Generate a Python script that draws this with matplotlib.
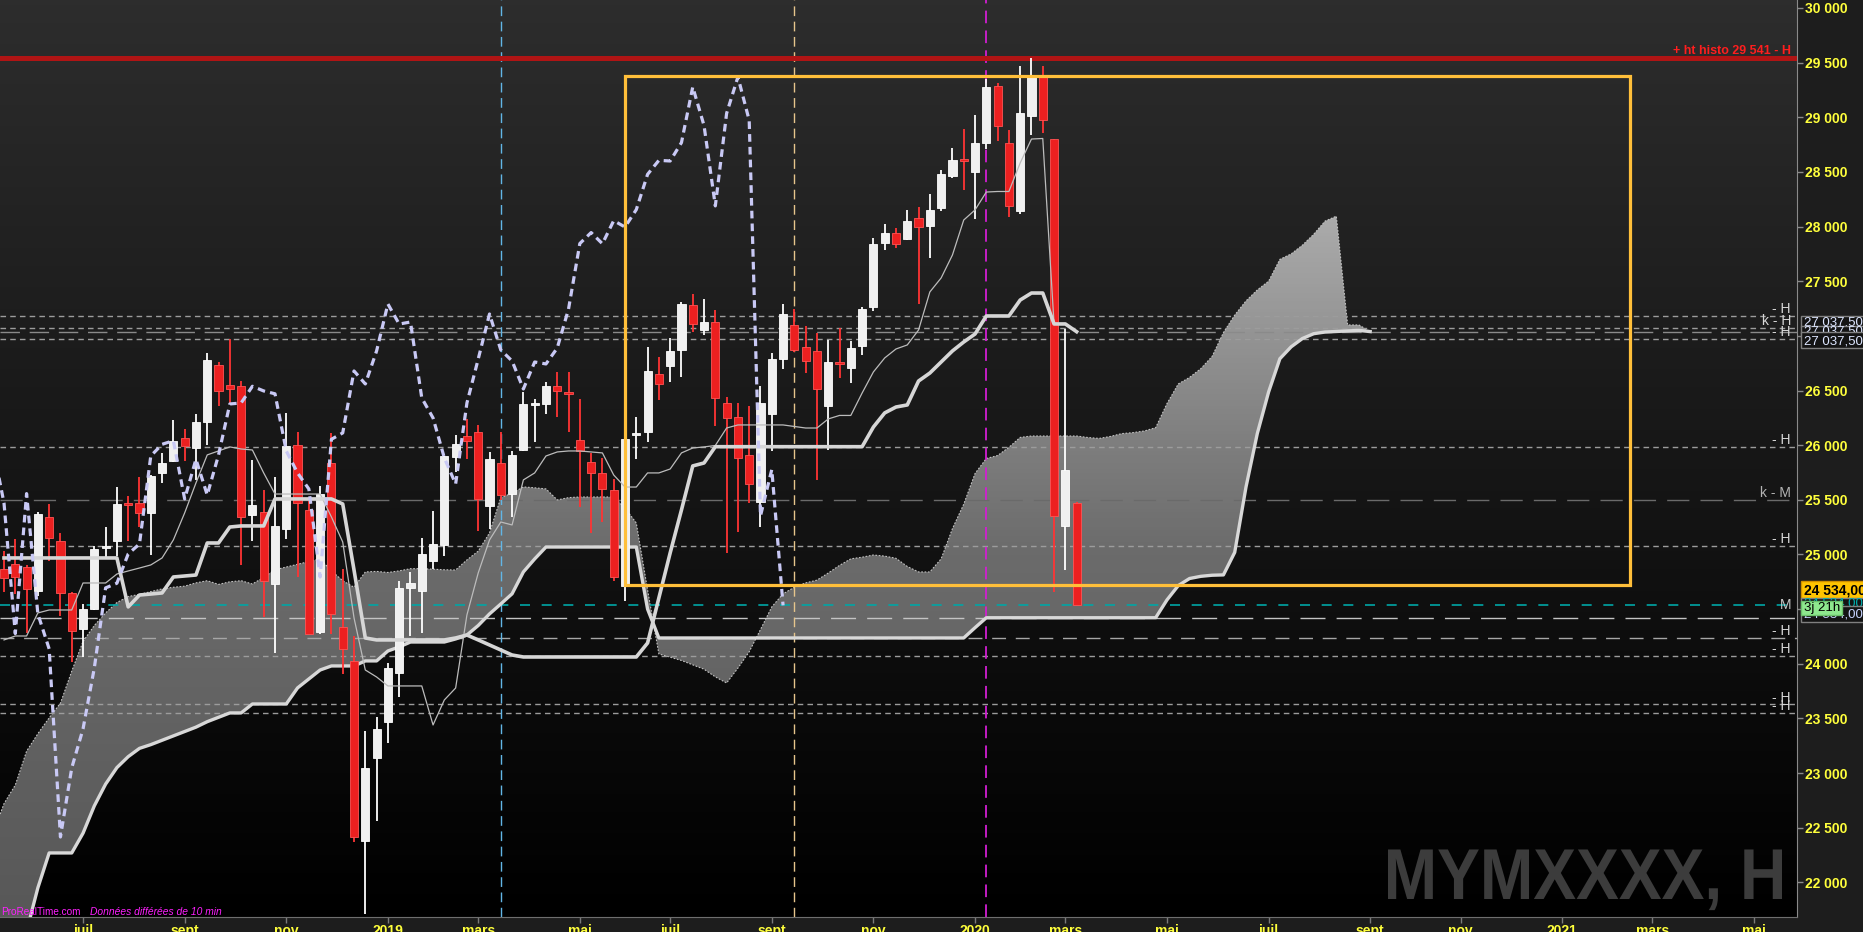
import numpy as np
import pandas as pd
import matplotlib
matplotlib.use("Agg")
import matplotlib.pyplot as plt
from matplotlib.colors import LinearSegmentedColormap
from matplotlib.patches import Rectangle, PathPatch
from matplotlib.textpath import TextPath
from matplotlib.font_manager import FontProperties
from matplotlib.transforms import Affine2D

plt.rcParams['font.family'] = ['Liberation Sans', 'DejaVu Sans']

# weekly candles (mini Dow future), first bar = week of 14 May 2018
first_week = "2018-05-14"

opens = [24867, 24913, 24886, 24666, 25343, 25124, 24648, 24318, 24501, 25060,
         25124, 25471, 25471, 25380, 25746, 25855, 26066, 25974, 26212, 26734,
         26551, 26541, 25361, 25384, 24730, 25237, 26002, 25407, 24291, 25837,
         24337, 24026, 22379, 23138, 23467, 23916, 24690, 24666, 24941, 25091,
         25894, 26080, 26121, 25446, 25837, 25554, 25956, 26368, 26380, 26541,
         26480, 26048, 25846, 25746, 25590, 24712, 26093, 26121, 26651, 26724,
         26871, 27283, 27054, 27127, 26386, 26258, 25910, 25480, 26285, 26788,
         27100, 26898, 26862, 26359, 26761, 26707, 26908, 27267, 27850, 27945,
         27886, 28074, 28006, 28170, 28463, 28610, 28500, 28768, 29283, 28762,
         28145, 29016, 29369, 28799, 25258, 25471]
highs = [25032, 25142, 24904, 25389, 25462, 25197, 24657, 24547, 25078, 25252,
         25618, 25535, 25709, 25725, 25929, 26230, 26148, 26285, 26843, 26761,
         26972, 26587, 25864, 25590, 25709, 26294, 26121, 25490, 25627, 26112,
         24867, 24255, 23385, 23513, 24007, 24758, 24840, 25151, 25398, 25905,
         26093, 26243, 26185, 25938, 26121, 25947, 26487, 26423, 26578, 26670,
         26670, 26423, 25929, 25883, 25691, 26060, 26258, 26898, 26807, 26981,
         27307, 27383, 27337, 27237, 26441, 26386, 26359, 26541, 26843, 27292,
         27246, 27091, 27024, 26963, 27072, 26953, 27265, 27896, 28020, 27990,
         28155, 28182, 28301, 28522, 28719, 28890, 29019, 29351, 29317, 28884,
         29470, 29544, 29469, 28800, 27064, 25480]
lows = [24657, 24639, 24282, 24620, 24941, 24437, 24017, 24062, 24490, 24977,
        24986, 25124, 25252, 24996, 25654, 25850, 25855, 25681, 26002, 26359,
        26386, 24904, 25124, 24428, 24103, 25146, 24794, 24270, 24270, 24276,
        23907, 22370, 21712, 22562, 23276, 23696, 24255, 24282, 24871, 24989,
        25755, 25877, 25215, 25234, 25499, 25343, 25950, 26029, 26288, 26258,
        26121, 25435, 25197, 25297, 24758, 24575, 25874, 26029, 26414, 26578,
        26624, 27036, 27008, 26176, 25014, 25206, 25471, 25252, 25947, 26697,
        26853, 26661, 25681, 25956, 26615, 26569, 26825, 27228, 27790, 27800,
        27877, 27294, 27708, 28143, 28445, 28335, 28070, 28714, 28786, 28088,
        28115, 28838, 28860, 24657, 24854, 24534]
closes = [24785, 24794, 24684, 25370, 25151, 24648, 24300, 24501, 25050, 25078,
          25462, 25453, 25380, 25718, 25837, 26038, 25993, 26212, 26780, 26496,
          26514, 25343, 25453, 24758, 25261, 25993, 25471, 24276, 25557, 24456,
          24136, 22415, 23047, 23404, 23962, 24694, 24737, 25005, 25096, 25901,
          26008, 26041, 25508, 25871, 25544, 25910, 26377, 26386, 26539, 26496,
          26470, 25947, 25746, 25599, 24794, 26054, 26112, 26679, 26560, 26862,
          27292, 27108, 27127, 26432, 26249, 25883, 25645, 26386, 26788, 27200,
          26871, 26770, 26514, 26761, 26743, 26889, 27246, 27845, 27945, 27843,
          28054, 27996, 28155, 28478, 28606, 28600, 28768, 29277, 28924, 28189,
          29036, 29369, 28972, 25353, 25777, 24534]

# ichimoku lines as read on the chart, one value per weekly bar
tenkan = [24218, 24254, 24254, 24465, 24492, 24492, 24492, 24739, 24739, 24739,
          24821, 24849, 24876, 24904, 24968, 25133, 25380, 25654, 25911, 25947,
          25984, 25965, 25956, 25746, 25553, 25553, 25553, 25553, 25553, 25343,
          25114, 24420, 23943, 23879, 23797, 23797, 23797, 23797, 23440, 23669,
          23778, 24447, 24831, 25133, 25297, 25270, 25682, 25746, 25901, 25938,
          25947, 25947, 25938, 25929, 25727, 25617, 25617, 25746, 25746, 25782,
          25929, 25974, 25984, 25997, 26157, 26185, 26185, 26185, 26185, 26185,
          26171, 26157, 26157, 26240, 26272, 26272, 26477, 26670, 26798, 26880,
          26917, 27054, 27402, 27530, 27740, 28060, 28152, 28316, 28321, 28321,
          28582, 28801, 28806, 27109, 27109, 27038]
kijun = ([24968] * 11
         + [24520, 24629, 24638, 24648, 24794, 24803, 24812, 25105, 25105]
         + [25251, 25261, 25261, 25261] + [25508] * 6
         + [25462, 24858, 24236] + [24218] * 7
         + [24236, 24263, 24218, 24172, 24126, 24080] + [24062] * 11
         + [24190, 24602, 25014, 25407, 25810, 25837] + [25986] * 14
         + [26166, 26295, 26349, 26368, 26587, 26660, 26761, 26862, 26944, 27017]
         + [27182] * 3 + [27328, 27392, 27392, 27109, 27109, 27038])

# cloud, from bar -1 up to bar 121 (26 weeks ahead of the last candle)
cloud_first_bar = -1
senkou_a = [22440, 22720, 22890, 23200, 23360, 23505, 23640, 23932, 24204, 24350, 24465,
            24560, 24615, 24635, 24660, 24685, 24700, 24710, 24740, 24760, 24726,
            24750, 24760, 24730, 24790, 24860, 24885, 24910, 24935, 24960, 24850,
            24760, 24700, 24840, 24845, 24835, 24850, 24870, 24870, 24865, 24860,
            24858, 24950, 25030, 25197, 25520, 25560, 25618, 25610, 25600, 25499,
            25520, 25526, 25526, 25526, 25526, 25425, 25288, 24675, 24090, 24060,
            24030, 23990, 23950, 23880, 23824, 23960, 24110, 24313, 24520, 24640,
            24700, 24740, 24765, 24830, 24900, 24960, 24975, 24995, 24985, 24965,
            24890, 24840, 24840, 24960, 25236, 25460, 25740, 25878, 25905, 25980,
            26071, 26084, 26084, 26084, 26084, 26084, 26070, 26062, 26080, 26106,
            26115, 26130, 26160, 26380, 26560, 26620, 26700, 26812, 27030, 27190,
            27320, 27420, 27500, 27700, 27750, 27830, 27930, 28050, 28095, 27100,
            27100, 27039]
senkou_b = ([21300, 21300, 21300, 21552, 21950, 22269, 22269, 22269, 22450, 22700, 22899]
            + [23050, 23150, 23226, 23260, 23300, 23340, 23380, 23420, 23470, 23510]
            + [23550, 23550, 23632, 23632, 23632, 23632, 23779, 23861, 23943, 23980]
            + [23980, 23980, 24026, 24026, 24117, 24154, 24199, 24199, 24199, 24199]
            + [24227, 24263, 24350, 24456, 24547, 24640, 24840, 24959, 25068, 25068]
            + [25068] * 7 + [24500, 24236, 24236]
            + [24236] * 26 + [24330, 24421, 24421, 24421]
            + [24421] * 13
            + [24584, 24715, 24780, 24800, 24810, 24813, 25019]
            + [25617, 26106, 26486, 26791, 26900, 26976, 27020, 27035, 27040, 27045]
            + [27050, 27039])
chikou_shift = 26

ht_histo = 29541
last_price = 24534
ssb_last = 27037.50
time_left = "3j 21h"
box_bars = (55, 144)
box_prices = (24725, 29378)

short_levels = [27182, 27072, 26975, 25984, 25082, 24071, 23628, 23550]
level_tags = [("- H", 27182), ("k - H", 27072), ("- H", 26975), ("- H", 25984),
              ("k - M", 25500), ("- H", 25082), ("- H", 24236), ("- H", 24071),
              ("- H", 23628), ("- H", 23550)]

month_starts = ["2018-07", "2018-09", "2018-11", "2019-01", "2019-03", "2019-05",
                "2019-07", "2019-09", "2019-11", "2020-01", "2020-03", "2020-05",
                "2020-07", "2020-09", "2020-11", "2021-01", "2021-03", "2021-05"]
month_labels = ["juil", "sept", "nov", "2019", "mars", "mai", "juil", "sept", "nov",
                "2020", "mars", "mai", "juil", "sept", "nov", "2021", "mars", "mai"]

# ---------------------------------------------------------------
W, H = 1863, 932
PR, PB = 1797, 917
fig = plt.figure(figsize=(W / 100, H / 100), dpi=100, facecolor="#1d1d1d")
ax = fig.add_axes([0, 1 - PB / H, PR / W, PB / H])
xlim = (-0.354, 158.8)
ylim = (21683, 30073)

bg = LinearSegmentedColormap.from_list("bg", ["#000000", "#2d2d2d"])
ax.imshow(np.linspace(1, 0, 300)[:, None], extent=(*xlim, *ylim), aspect="auto",
          cmap=bg, zorder=0, interpolation="bilinear")

# kumo with a vertical grey gradient
xc = np.arange(len(senkou_a)) + cloud_first_bar
poly = ax.fill_between(xc, senkou_a, senkou_b, facecolor="none", edgecolor="none")
span = ylim[1] - ylim[0]
stops = [(0.0, "#585858"), ((25000 - ylim[0]) / span, "#6b6b6b"),
         ((26000 - ylim[0]) / span, "#7e7e7e"), ((28200 - ylim[0]) / span, "#adadad"),
         (1.0, "#bcbcbc")]
cloud_cm = LinearSegmentedColormap.from_list("cloud", stops)
im = ax.imshow(np.linspace(1, 0, 400)[:, None], extent=(*xlim, *ylim), aspect="auto",
               cmap=cloud_cm, zorder=1, interpolation="bilinear")
im.set_clip_path(poly.get_paths()[0], transform=ax.transData)
ax.plot(xc, senkou_a, color="#c4c4c4", lw=0.8, ls=(0, (1.5, 1.5)), zorder=1.5)
ax.plot(xc, senkou_b, color="#d8d8d8", lw=2.4, zorder=3)

# horizontal levels
for p in short_levels:
    ax.axhline(p, color="#9c9c9c", lw=1, ls=(0, (4, 3)), zorder=2)
ax.axhline(ssb_last, color="#8a8a8a", lw=1, ls=(0, (14, 7)), zorder=2)
ax.axhline(25500, color="#6a6a6a", lw=1, ls=(0, (16, 8)), zorder=2)
ax.axhline(24419, color="#c4c4c4", lw=1, ls=(0, (18, 8)), zorder=2)
ax.axhline(24236, color="#a6a6a6", lw=1, ls=(0, (10, 7)), zorder=2)
ax.axhline(last_price, color="#00a6a6", lw=1.2, ls=(0, (6, 7)), zorder=2)
ax.axhline(ht_histo, color="#b01414", lw=3.6, zorder=3)

ax.axvline(44, color="#62b6e6", lw=1, ls=(0, (7, 4)), zorder=2)
ax.axvline(70, color="#e6c58c", lw=1, ls=(0, (7, 4)), zorder=2)
ax.axvline(87, color="#d21ed2", lw=1.3, ls=(0, (7, 4)), zorder=2)

# candles
o, hi, lo, c = (np.array(v, dtype=float) for v in (opens, highs, lows, closes))
x = np.arange(len(c))
up = c >= o
body_lo = np.minimum(o, c)
body_h = np.maximum(np.abs(c - o), 15)
ax.vlines(x, lo, hi, colors=np.where(up, "#ffffff", "#ff3434"), lw=1.3, zorder=4)
ax.bar(x[up], body_h[up], bottom=body_lo[up], width=0.72, color="#f0f0f0",
       edgecolor="#ffffff", lw=0.6, zorder=5)
ax.bar(x[~up], body_h[~up], bottom=body_lo[~up], width=0.72, color="#ec2020",
       edgecolor="#ff5454", lw=0.6, zorder=5)

ax.plot(x, tenkan, color="#bcbcbc", lw=0.9, zorder=6)
ax.plot(x, kijun, color="#d6d6d6", lw=2.6, zorder=6)
ax.plot(x - chikou_shift, c, color="#c9c9f5", lw=2.3, ls=(0, (2.4, 1.6)), zorder=6)

ax.add_patch(Rectangle((box_bars[0], box_prices[0]), box_bars[1] - box_bars[0],
                       box_prices[1] - box_prices[0], fill=False,
                       edgecolor="#ffbf3a", lw=2.3, zorder=7))

ax.set_xlim(*xlim)
ax.set_ylim(*ylim)

# texts inside the price area
yt = ax.get_yaxis_transform()
ax.text(1791 / PR, ht_histo + 38, "+ ht histo 29 541 - H", transform=yt, ha="right",
        va="baseline", color="#ff1e1e", fontsize=9, fontweight="bold", zorder=8)
for txt, p in level_tags:
    col = "#b4b4b4" if "M" in txt else "#d8d8d8"
    ax.text(1791 / PR, p + 25, txt, transform=yt, ha="right", va="baseline",
            color=col, fontsize=10, zorder=8)
ax.text(1791 / PR, last_price, "M", transform=yt, ha="right", va="center",
        color="#c8c8c8", fontsize=10, zorder=8)

# axes
ax.yaxis.tick_right()
yticks = list(range(22000, 30001, 500))
ax.set_yticks(yticks)
ax.set_yticklabels([f"{v:,}".replace(",", " ") for v in yticks], fontweight="bold",
                   fontsize=10, color="#ffff3c")
ax.tick_params(axis="y", direction="out", length=4, width=1, color="#8a8a8a", pad=2)

dates = pd.date_range(first_week, periods=170, freq="7D")
xt = [int(np.searchsorted(dates, pd.Timestamp(m))) for m in month_starts]
ax.set_xticks(xt)
ax.set_xticklabels(month_labels, fontweight="bold", fontsize=10, color="#ffff3c")
ax.tick_params(axis="x", direction="out", length=4, width=1, color="#7a7a7a", pad=1)

for s in ("top", "left"):
    ax.spines[s].set_visible(False)
ax.spines["right"].set_color("#8a8a8a")
ax.spines["bottom"].set_color("#6e6e6e")


def px_box(x0, y0, x1, y1, fc, ec, z):
    fig.add_artist(Rectangle((x0 / W, 1 - y1 / H), (x1 - x0) / W, (y1 - y0) / H,
                             transform=fig.transFigure, facecolor=fc, edgecolor=ec,
                             lw=1, zorder=z))


def px_text(xp, yp, s, z, **kw):
    fig.text(xp / W, 1 - yp / H, s, zorder=z, **kw)


# price boxes on the right scale
lbl = "27 037,50"
for i, (y0, y1) in enumerate([(316, 327), (326, 334), (332, 348)]):
    px_box(1801, y0, 1866, y1, "#141414", "#808080", 10 + i)
    px_text(1804, (y0 + y1) / 2 + 1, lbl, 10 + i, color="#dde6ff", fontsize=9.5,
            va="center")
px_box(1801, 581, 1866, 599, "#ffc400", "#d09000", 20)
px_text(1804, 590.5, f"{last_price:,}".replace(",", " ") + ",00", 20, color="#000000",
        fontsize=10, fontweight="bold", va="center")
px_box(1801, 598, 1866, 608, "#141414", "#808080", 21)
px_text(1804, 604, "24 534,00", 21, color="#00b0b0", fontsize=9.5, va="center")
px_box(1801, 606, 1866, 622, "#141414", "#808080", 22)
px_text(1804, 614.5, "24 534,00", 22, color="#c8d4ff", fontsize=9.5, va="center")
px_box(1801, 601, 1842, 615, "#8ee88e", "#6ac06a", 23)
px_text(1804, 608.5, time_left, 23, color="#000000", fontsize=9.5, va="center")

# footer and watermark
px_text(1, 915, "ProRealTime.com", 30, color="#ff20ff", fontsize=7.2, va="baseline")
px_text(90, 915, "Données différées de 10 min", 30, color="#ff20ff", fontsize=7.4,
        style="italic", va="baseline")

tp = TextPath((0, 0), "MYMXXXX, H", size=72,
              prop=FontProperties(family="Liberation Sans", weight="bold"))
ext = tp.get_extents()
tr = Affine2D().translate(-ext.x1, 0).scale(394 / ext.width, 1).translate(1782, H - 899)
fig.add_artist(PathPatch(tp, transform=tr, facecolor="#3c3c3c", edgecolor="none",
                         zorder=1))

fig.savefig("out.png", dpi=100, facecolor=fig.get_facecolor())
